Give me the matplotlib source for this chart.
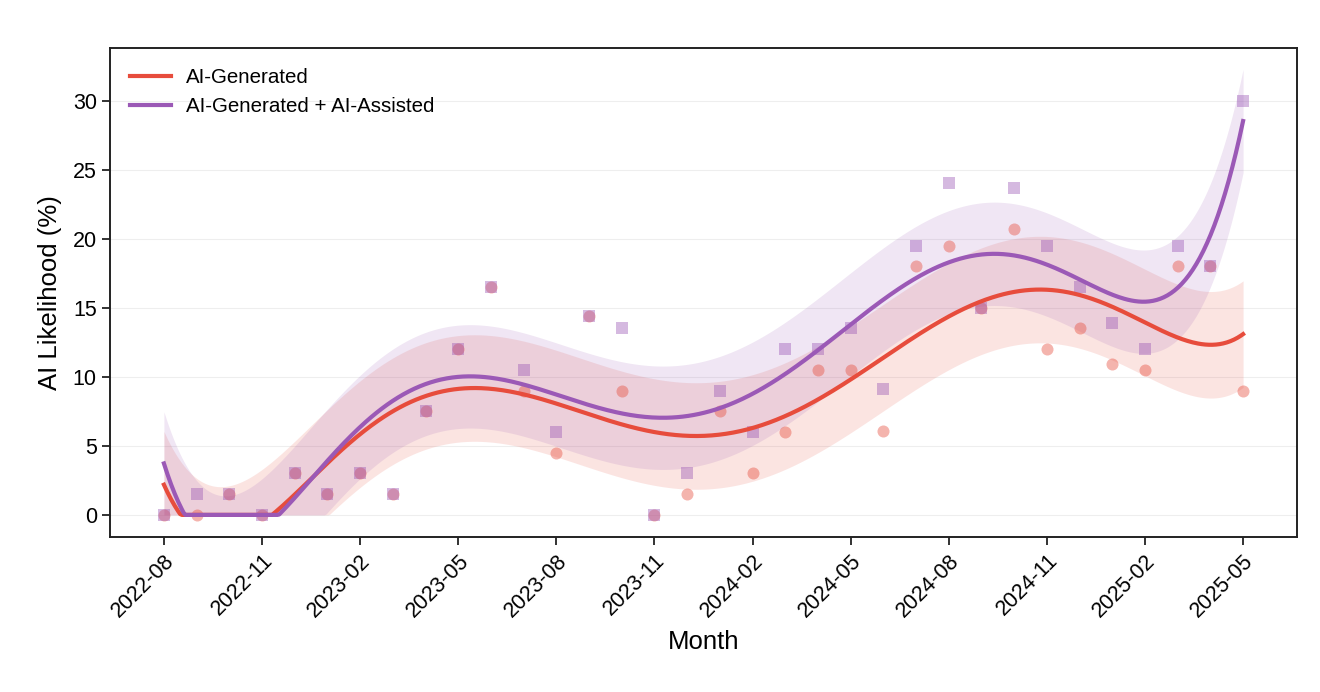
import numpy as np
import matplotlib
matplotlib.use("Agg")
import matplotlib.pyplot as plt

months = ["2022-08", "2022-09", "2022-10", "2022-11", "2022-12",
          "2023-01", "2023-02", "2023-03", "2023-04", "2023-05", "2023-06",
          "2023-07", "2023-08", "2023-09", "2023-10", "2023-11", "2023-12",
          "2024-01", "2024-02", "2024-03", "2024-04", "2024-05", "2024-06",
          "2024-07", "2024-08", "2024-09", "2024-10", "2024-11", "2024-12",
          "2025-01", "2025-02", "2025-03", "2025-04", "2025-05"]

ai_generated = [0, 0, 1.5, 0, 3, 1.5, 3, 1.5, 7.5, 12, 16.5,
                9, 4.5, 14.4, 9, 0, 1.5, 7.5, 3, 6, 10.5, 10.5, 6.1,
                18, 19.5, 15, 20.7, 12, 13.5, 10.9, 10.5, 18, 18, 9]
ai_gen_assisted = [0, 1.5, 1.5, 0, 3, 1.5, 3, 1.5, 7.5, 12, 16.5,
                   10.5, 6, 14.4, 13.5, 0, 3, 9, 6, 12, 12, 13.5, 9.1,
                   19.5, 24, 15, 23.7, 19.5, 16.5, 13.9, 12, 19.5, 18, 30]

series_labels = ["AI-Generated", "AI-Generated + AI-Assisted"]
tick_every = 3

RED = "#E74C3C"
PURPLE = "#9B59B6"
DEG = 6

plt.rcParams['font.family'] = ['Liberation Sans', 'DejaVu Sans']

fig = plt.figure(figsize=(13.2, 6.92), dpi=100)
ax = fig.add_axes([0.0833, 0.224, 0.8993, 0.7066])

x = np.arange(len(months), dtype=float)
xs = np.linspace(x.min(), x.max(), 600)


def poly_band(xv, yv, xg, deg):
    yv = np.asarray(yv, dtype=float)
    coef = np.polyfit(xv, yv, deg)
    resid = yv - np.polyval(coef, xv)
    sd = np.std(resid)
    fit = np.polyval(coef, xg)
    return fit, fit - sd, fit + sd


for yv, col, lab, mk in [(ai_generated, RED, series_labels[0], 'o'),
                         (ai_gen_assisted, PURPLE, series_labels[1], 's')]:
    fit, lo, hi = poly_band(x, yv, xs, DEG)
    ax.fill_between(xs, np.clip(lo, 0, None), np.clip(hi, 0, None),
                    color=col, alpha=0.15, linewidth=0, zorder=1)
    ax.scatter(x, yv, marker=mk, s=75, color=col, alpha=0.42,
               linewidths=0, zorder=2)
    ax.plot(xs, np.clip(fit, 0, None), color=col, lw=3, label=lab, zorder=3)

ax.set_xlim(x.min() - 1.65, x.max() + 1.65)
ax.set_ylim(-1.6, 33.8)
ax.set_yticks([0, 5, 10, 15, 20, 25, 30])
ax.set_xticks(x[::tick_every])
ax.set_xticklabels(months[::tick_every], rotation=45, ha='right',
                   rotation_mode='anchor')
ax.tick_params(axis='both', labelsize=15.5, width=1.3, length=6, color='#222222')
ax.grid(axis='y', color='#eeeeee', lw=0.8)
ax.set_axisbelow(True)
for sp in ax.spines.values():
    sp.set_linewidth(1.4)
    sp.set_color('#222222')

ax.set_xlabel("Month", fontsize=18.5, labelpad=6)
ax.set_ylabel("AI Likelihood (%)", fontsize=18.5, labelpad=8)

leg = ax.legend(loc='upper left', fontsize=14.8, frameon=False,
                handlelength=2.0, handletextpad=0.7, borderaxespad=0.58,
                labelspacing=0.5)

fig.savefig("out.png", dpi=100)
